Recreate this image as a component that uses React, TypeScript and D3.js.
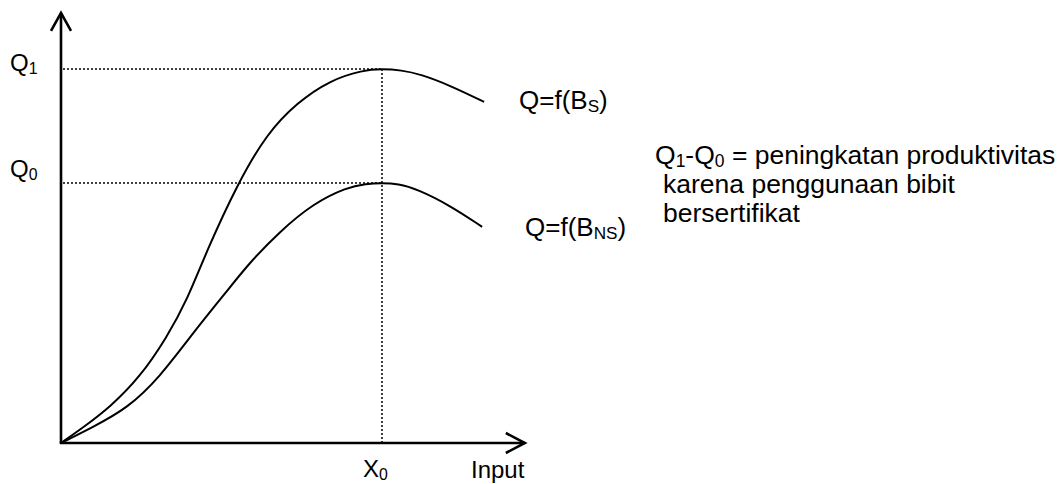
import { useEffect, useRef } from 'react';
import * as d3 from 'd3';

// input values and output (Q1 = 100)
const bsInput = [0, 7, 15.3, 24.6, 33.0, 39.3, 45.5, 55.1, 64.2, 73.5, 83.8, 94, 100, 106, 112, 121.2, 131.8];
const bsOutput = [0, 4.2, 9.6, 17.6, 28.3, 38.2, 51.6, 69.5, 82.8, 91.0, 97.0, 99.7, 100, 99.7, 98.6, 95.6, 91.2];

const bnsInput = [0, 10, 20.6, 30.8, 41.1, 51.7, 58.3, 68.2, 78.5, 89.1, 95, 100, 105, 110.9, 121.2, 131.2];
const bnsOutput = [0, 4.3, 9.2, 17.6, 29.4, 40.6, 47.8, 56.6, 64.0, 68.4, 69.3, 69.5, 69.3, 67.9, 63.5, 57.8];

const X0 = 100;
const Q1 = 100;
const Q0 = 69.5;
const xAxisEnd = 144.5;
const yAxisEnd = 115;

const noteLines = ['karena penggunaan bibit', 'bersertifikat'];

const FONT = '"Liberation Sans", Arial, sans-serif';

export default function App() {
    const svgRef = useRef<SVGSVGElement>(null);

    useEffect(() => {
        if (!svgRef.current) return;
        document.body.style.margin = '0';

        const svg = d3.select(svgRef.current);
        svg.selectAll('*').remove();

        const x = d3.scaleLinear().domain([0, 100]).range([61, 382]);
        const y = d3.scaleLinear().domain([0, 100]).range([443, 69]);

        const g = svg.append('g');

        // dotted guide lines
        const dotted = (x1: number, y1: number, x2: number, y2: number) =>
            g.append('line')
                .attr('x1', x1).attr('y1', y1).attr('x2', x2).attr('y2', y2)
                .attr('stroke', '#000')
                .attr('stroke-width', 1.5)
                .attr('stroke-dasharray', '2,2');
        dotted(x(0) + 2, y(Q1), x(X0), y(Q1));
        dotted(x(0) + 2, y(Q0), x(X0), y(Q0));
        dotted(x(X0), y(Q1), x(X0), y(0));

        // curves
        const line = d3.line<[number, number]>()
            .x(d => x(d[0]))
            .y(d => y(d[1]))
            .curve(d3.curveBasis);

        const bs = bsInput.map((v, i) => [v, bsOutput[i]] as [number, number]);
        const bns = bnsInput.map((v, i) => [v, bnsOutput[i]] as [number, number]);

        [bs, bns].forEach(data => {
            g.append('path')
                .attr('d', line(data))
                .attr('fill', 'none')
                .attr('stroke', '#000')
                .attr('stroke-width', 2);
        });

        // axes with arrow heads
        const axis = g.append('g')
            .attr('stroke', '#000')
            .attr('stroke-width', 2.6)
            .attr('fill', 'none');
        axis.append('path')
            .attr('d', `M${x(0)},${y(0)} L${x(0)},${y(yAxisEnd)}`);
        axis.append('path')
            .attr('d', `M${x(0) - 10},${y(yAxisEnd) + 18} L${x(0)},${y(yAxisEnd)} L${x(0) + 10},${y(yAxisEnd) + 18}`);
        axis.append('path')
            .attr('d', `M${x(0) - 1.3},${y(0)} L${x(xAxisEnd)},${y(0)}`);
        axis.append('path')
            .attr('d', `M${x(xAxisEnd) - 19},${y(0) - 10} L${x(xAxisEnd)},${y(0)} L${x(xAxisEnd) - 19},${y(0) + 10}`);

        // labels
        const label = (tx: number, ty: number, size: number, main: string, sub?: string, tail?: string) => {
            const t = g.append('text')
                .attr('x', tx).attr('y', ty)
                .attr('font-family', FONT)
                .attr('font-size', size)
                .attr('fill', '#000');
            t.append('tspan').text(main);
            if (sub) {
                t.append('tspan').attr('font-size', size * 0.66).attr('dy', 3).text(sub);
                if (tail) t.append('tspan').attr('dy', -3).text(tail);
            }
            return t;
        };

        label(10, 71, 24, 'Q', '1');
        label(10, 177, 24, 'Q', '0');
        label(363, 477, 24, 'X', '0');
        label(471, 478, 24, 'Input');
        label(519, 109, 26, 'Q=f(B', 'S', ')');
        label(525, 236, 26, 'Q=f(B', 'NS', ')');

        const note = label(655, 164, 26.5, 'Q', '1', '-Q');
        note.append('tspan').attr('font-size', 26.5 * 0.66).attr('dy', 3).text('0');
        note.append('tspan').attr('dy', -3).text(' = peningkatan produktivitas');

        noteLines.forEach((s, i) => {
            label(663, 193 + i * 29, 26.5, s);
        });
    }, []);

    return (
        <svg ref={svgRef} width={1061} height={484}
            style={{ position: 'absolute', left: 0, top: 0, background: '#fff' }} />
    );
}
